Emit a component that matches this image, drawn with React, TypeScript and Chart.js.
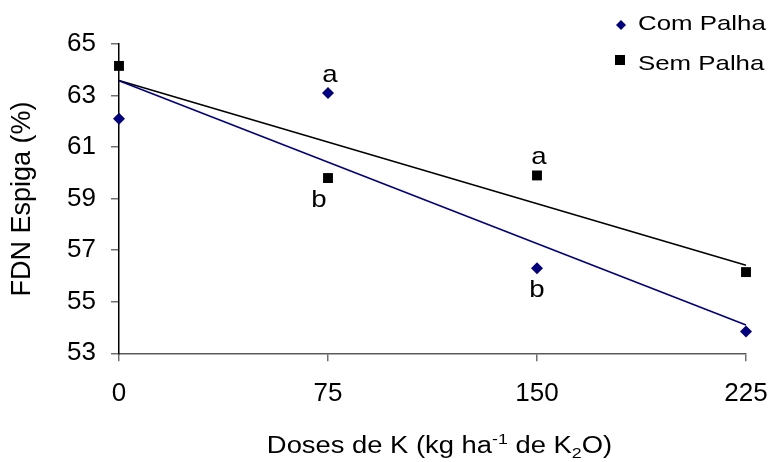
import React, { useEffect, useRef } from 'react';
import { Chart, registerables } from 'chart.js';

Chart.register(...registerables);

// ---- data ----
const doses = [0, 75, 150, 225];
const comPalha = [62.1, 63.1, 56.3, 53.85];
const semPalha = [64.15, 59.8, 59.9, 56.15];
const trendDoses = [0, 225];
const comTrend = [63.57, 54.1];
const semTrend = [63.58, 56.42];
const comLetters = ['', 'a', 'b', ''];
const semLetters = ['', 'b', 'a', ''];
const xTicks = [0, 75, 150, 225];
const yTicks = [53, 55, 57, 59, 61, 63, 65];
const seriesNames = ['Com Palha', 'Sem Palha'];

const NAVY = '#000080';
const FONT = '"Liberation Sans", Arial, Helvetica, sans-serif';

function wideText(ctx: CanvasRenderingContext2D, t: string, x: number, y: number, sx: number) {
  ctx.save();
  ctx.translate(x, y);
  ctx.scale(sx, 1);
  ctx.fillText(t, 0, 0);
  ctx.restore();
}

const textPlugin = {
  id: 'textPlugin',
  afterDraw(chart: any) {
    const ctx = chart.ctx as CanvasRenderingContext2D;
    ctx.save();
    ctx.fillStyle = '#000';

    // y-axis title
    ctx.save();
    ctx.translate(23, 199);
    ctx.rotate(-Math.PI / 2);
    ctx.font = `27px ${FONT}`;
    ctx.textAlign = 'center';
    ctx.textBaseline = 'middle';
    ctx.fillText('FDN Espiga (%)', 0, 0);
    ctx.restore();

    // x-axis title with super/subscript
    const sx = 1.19;
    const parts = [
      { t: 'Doses de K (kg ha', k: 'n' },
      { t: '-1', k: 'sup' },
      { t: ' de K', k: 'n' },
      { t: '2', k: 'sub' },
      { t: 'O)', k: 'n' },
    ];
    const big = `23px ${FONT}`;
    const small = `15px ${FONT}`;
    let total = 0;
    const widths = parts.map((p) => {
      ctx.font = p.k === 'n' ? big : small;
      const w = ctx.measureText(p.t).width * sx;
      total += w;
      return w;
    });
    const cx = (chart.chartArea.left + chart.chartArea.right) / 2 + 7;
    let x = cx - total / 2;
    const base = 453;
    ctx.textAlign = 'left';
    ctx.textBaseline = 'alphabetic';
    parts.forEach((p, i) => {
      ctx.font = p.k === 'n' ? big : small;
      const dy = p.k === 'sup' ? -9 : p.k === 'sub' ? 5 : 0;
      wideText(ctx, p.t, x, base + dy, sx);
      x += widths[i];
    });

    // legend
    ctx.font = `21px ${FONT}`;
    ctx.fillStyle = NAVY;
    ctx.beginPath();
    ctx.moveTo(621 - 5, 25);
    ctx.lineTo(621, 20);
    ctx.lineTo(621 + 5, 25);
    ctx.lineTo(621, 30);
    ctx.closePath();
    ctx.fill();
    ctx.fillStyle = '#000';
    ctx.fillRect(615, 55, 10, 10);
    wideText(ctx, seriesNames[0], 638, 30, 1.23);
    wideText(ctx, seriesNames[1], 638, 70, 1.23);

    // significance letters
    ctx.font = `24px ${FONT}`;
    ctx.textAlign = 'center';
    const metaCom = chart.getDatasetMeta(2);
    const metaSem = chart.getDatasetMeta(3);
    const drawLetters = (meta: any, letters: string[], own: number[], other: number[]) => {
      letters.forEach((l, i) => {
        if (!l) return;
        const pt = meta.data[i];
        const above = own[i] >= other[i];
        const y = above ? pt.y - 11 : pt.y + 29;
        const dx = above ? 2 : i === 1 ? -9 : 0;
        wideText(ctx, l, pt.x + dx, y, 1.15);
      });
    };
    drawLetters(metaCom, comLetters, comPalha, semPalha);
    drawLetters(metaSem, semLetters, semPalha, comPalha);

    ctx.restore();
  },
};

export default function App() {
  const ref = useRef<HTMLCanvasElement>(null);

  useEffect(() => {
    document.body.style.margin = '0';
    const canvas = ref.current!;
    const chart = new Chart(canvas, {
      type: 'scatter',
      data: {
        datasets: [
          {
            type: 'line',
            label: 'trend com',
            data: trendDoses.map((x, i) => ({ x, y: comTrend[i] })),
            borderColor: NAVY,
            borderWidth: 1.6,
            pointRadius: 0,
            fill: false,
            clip: false,
          } as any,
          {
            type: 'line',
            label: 'trend sem',
            data: trendDoses.map((x, i) => ({ x, y: semTrend[i] })),
            borderColor: '#000',
            borderWidth: 1.6,
            pointRadius: 0,
            fill: false,
            clip: false,
          } as any,
          {
            label: seriesNames[0],
            data: doses.map((x, i) => ({ x, y: comPalha[i] })),
            pointStyle: 'rectRot',
            pointRadius: 6,
            backgroundColor: NAVY,
            borderColor: NAVY,
            borderWidth: 0,
            clip: false,
          } as any,
          {
            label: seriesNames[1],
            data: doses.map((x, i) => ({ x, y: semPalha[i] })),
            pointStyle: 'rect',
            pointRadius: 7,
            backgroundColor: '#000',
            borderColor: '#000',
            borderWidth: 0,
            clip: false,
          } as any,
        ],
      },
      options: {
        animation: false,
        responsive: false,
        devicePixelRatio: 1,
        layout: { padding: { top: 44, right: 27, left: 0, bottom: 0 } },
        plugins: {
          legend: { display: false },
          tooltip: { enabled: false },
        },
        scales: {
          x: {
            type: 'linear',
            min: 0,
            max: 225,
            afterBuildTicks: (s: any) => {
              s.ticks = xTicks.map((v) => ({ value: v }));
            },
            afterFit: (s: any) => {
              s.height = 108.7;
              s.paddingLeft = 0;
              s.paddingRight = 0;
            },
            grid: {
              display: true,
              drawOnChartArea: false,
              drawTicks: true,
              tickLength: 8,
              color: '#707070',
              lineWidth: 1.5,
            },
            border: { display: true, color: '#5a5a5a', width: 1.5 },
            ticks: {
              color: '#000',
              font: { size: 26, family: FONT },
              padding: 17,
              maxRotation: 0,
              autoSkip: false,
            },
          },
          y: {
            type: 'linear',
            min: 53,
            max: 65,
            afterBuildTicks: (s: any) => {
              s.ticks = yTicks.map((v) => ({ value: v }));
            },
            afterFit: (s: any) => {
              s.width = 119;
              s.paddingTop = 0;
              s.paddingBottom = 0;
            },
            grid: {
              display: true,
              drawOnChartArea: false,
              drawTicks: true,
              tickLength: 8,
              color: '#707070',
              lineWidth: 1.5,
            },
            border: { display: true, color: '#000', width: 1.5 },
            ticks: {
              color: '#000',
              font: { size: 26, family: FONT },
              padding: 15,
              autoSkip: false,
            },
          },
        },
      },
      plugins: [textPlugin],
    });
    return () => chart.destroy();
  }, []);

  return (
    <div style={{ position: 'absolute', left: 0, top: 0, width: 773, height: 462, background: '#fff' }}>
      <canvas ref={ref} width={773} height={462} />
    </div>
  );
}
